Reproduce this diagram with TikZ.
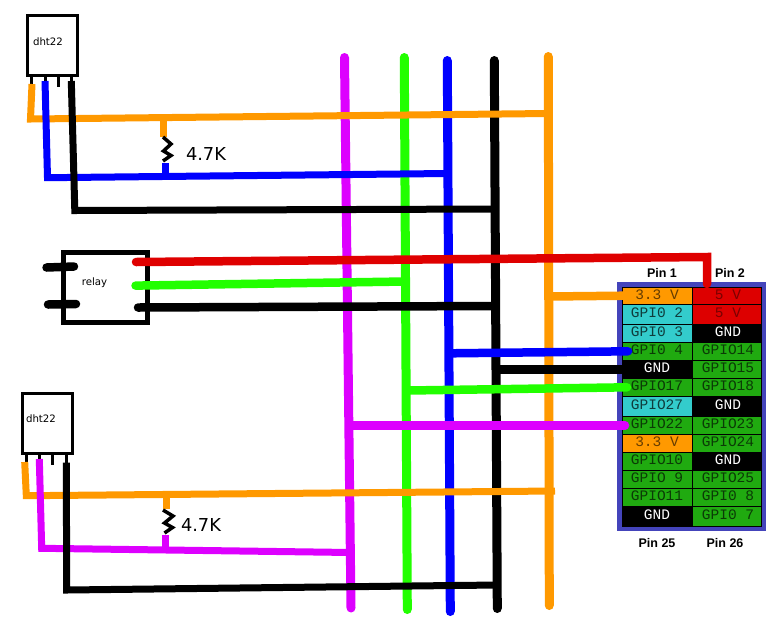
\documentclass[tikz,border=0pt]{standalone}
\usepackage{fontspec}
\setmainfont{DejaVu Sans}
\newfontfamily\cellfont{Liberation Mono}
\newfontfamily\headfont{Liberation Sans}
\usetikzlibrary{positioning}
\definecolor{wireorange}{HTML}{FF9900}
\definecolor{wiremagenta}{HTML}{DD00FF}
\definecolor{wiregreen}{HTML}{22FF00}
\definecolor{wireblue}{HTML}{0000FF}
\definecolor{wirered}{HTML}{DF0000}
\definecolor{cellgreen}{HTML}{20AA10}
\definecolor{cellcyan}{HTML}{33CCCC}
\definecolor{cellorange}{HTML}{FF9900}
\definecolor{cellred}{HTML}{DD0000}
\definecolor{panelblue}{HTML}{4444BB}
\tikzset{
  bus/.style={line width=9pt,line cap=round},
  wire/.style={line width=7pt,miter limit=10},
  relaywire/.style={line width=8.5pt,line cap=round},
  lead/.style={line width=3pt},
  zigzag/.style={line width=3.5pt},
  pcell/.style={draw=black,line width=.7pt,anchor=north west,inner sep=0pt,outer sep=0pt,text height=8pt,text depth=1pt,font=\fontsize{14.5}{15}\cellfont},
  gpio/.style={pcell,fill=cellgreen,text=cellgreen!35!black},
  spi/.style={pcell,fill=cellcyan,text=cellcyan!30!black},
  volt/.style={pcell,fill=cellorange,text=cellorange!40!black},
  five/.style={pcell,fill=cellred,text=cellred!55!black},
  gnd/.style={pcell,fill=black,text=white},
  sensorbox/.style={draw=black,fill=white,line width=3pt,minimum width=50pt,minimum height=60pt,inner sep=0pt,outer sep=0pt},
  small/.style={font=\fontsize{10.2}{12}\selectfont,inner sep=0pt},
  ohm/.style={font=\fontsize{17.8}{20}\selectfont,inner sep=0pt},
  pinlabel/.style={font=\fontsize{12.5}{14}\headfont\bfseries,inner sep=0pt}
}
\begin{document}
\begin{tikzpicture}[x=1pt,y=-1pt]
\useasboundingbox (0,0) rectangle (779,641);

\foreach \name/\x/\y in {magT/344.5/57.5, magB/351/608, greT/404.3/57.5, greB/407.3/609.5, bluT/447.3/60.5, bluB/450.3/611.5, blaT/494.3/60.5, blaB/497.3/608.5, oraT/548.3/56.5, oraB/549.3/605.5}
\coordinate (\name) at (\x,\y);

\foreach \name/\col in {mag/wiremagenta, gre/wiregreen, blu/wireblue, bla/black, ora/wireorange}
\draw[bus,\col] (\name T) -- (\name B);

\node[sensorbox](dhtA) at (52.5,45.5) {};
\node[sensorbox](dhtB) at (47,423.5) {};
\node[small](dhtAtext) at (48,41.5) {dht22};
\node[small](dhtBtext) at (41,418.5) {dht22};
\foreach \s/\dx in {dhtA/4, dhtA/17.5, dhtA/30.5, dhtA/43.5, dhtB/4, dhtB/17.5, dhtB/30.5, dhtB/44.5}
\draw[lead] ([xshift=\dx pt]\s.south west) -- ++(0,11);

\node[draw=black,fill=white,line width=5pt,minimum width=84pt,minimum height=70pt,inner sep=0pt,outer sep=0pt](relay) at (105.5,287.5) {};
\node[small](relaytext) at (94.5,283) {relay};
\coordinate (pinAl) at (46.5,267.5);
\coordinate (pinAr) at (74,266.5);
\coordinate (pinBl) at (48,304.5);
\coordinate (pinBr) at (76,304);
\draw[relaywire,black] (pinAl) -- (pinAr);
\draw[relaywire,black] (pinBl) -- (pinBr);

\node[draw=panelblue,fill=panelblue,line width=5pt,minimum width=144pt,minimum height=244pt,inner sep=0pt,outer sep=0pt](panel) at (691.5,406.5) {};
\foreach \row/\ya/\h/\ltext/\lkind/\rtext/\rkind in {
  1/287/17.3/3.3 V/volt/5 V/five,
  2/304.3/19.7/GPI0 2/spi/5 V/five,
  3/324/18.3/GPI0 3/spi/GND/gnd,
  4/342.3/18/GPI0 4/gpio/GPIO14/gpio,
  5/360.3/18/GND/gnd/GPIO15/gpio,
  6/378.3/18/GPIO17/gpio/GPIO18/gpio,
  7/396.3/20/GPIO27/spi/GND/gnd,
  8/416.3/18/GPIO22/gpio/GPIO23/gpio,
  9/434.3/18/3.3 V/volt/GPIO24/gpio,
  10/452.3/18/GPIO10/gpio/GND/gnd,
  11/470.3/18/GPIO 9/gpio/GPIO25/gpio,
  12/488.3/18/GPIO11/gpio/GPI0 8/gpio,
  13/506.3/19.7/GND/gnd/GPI0 7/gpio}
{
\node[\lkind,minimum width=70pt,minimum height=\h pt](l\row) at (622,\ya) {\ltext};
\node[\rkind,minimum width=69pt,minimum height=\h pt](r\row) at (692,\ya) {\hspace{3pt}\rtext};
}

\node[pinlabel](pinone) at (662,273) {Pin 1};
\node[pinlabel](pintwo) at (730,273) {Pin 2};
\node[pinlabel](pinlow) at (657,543) {Pin 25};
\node[pinlabel](pinhigh) at (725,543) {Pin 26};

\coordinate (orgA) at (32,84);
\coordinate (orgAc) at (30.5,119);
\coordinate (orgAe) at (548,113.5);
\coordinate (bluA) at (45,81);
\coordinate (bluAc) at (47.5,177.7);
\coordinate (bluAe) at (447,173.5);
\coordinate (blaA) at (71.3,81);
\coordinate (blaAc) at (74.8,210.5);
\coordinate (blaAe) at (494,209);
\coordinate (orgB) at (24.7,462);
\coordinate (orgBc) at (26.3,495.7);
\coordinate (orgBe) at (555,491);
\coordinate (magA) at (39.3,459);
\coordinate (magAc) at (41.7,548.3);
\coordinate (magAe) at (351,552.5);
\coordinate (blaB) at (66.3,462.7);
\coordinate (blaBc) at (66.7,590);
\coordinate (blaBe) at (497,585);

\coordinate (resAt) at (163,117.5);
\coordinate (resAb) at (165,176);
\coordinate (resBt) at (166,493);
\coordinate (resBb) at (165.5,549);

\draw[wire,wireorange] (orgA) -- (orgAc) -- (orgAe);
\draw[wire,wireorange] (orgB) -- (orgBc) -- (orgBe);
\draw[wire,wireblue] (bluA) -- (bluAc) -- (bluAe);
\draw[wire,wiremagenta] (magA) -- (magAc) -- (magAe);
\draw[wire,black] (blaA) -- (blaAc) -- (blaAe);
\draw[wire,black] (blaB) -- (blaBc) -- (blaBe);

\draw[wire,wireorange] (resAt) -- (163,137);
\draw[wire,wireblue] (165,163) -- (resAb);
\draw[zigzag] (163,137) -- (171,144) -- (163.5,151) -- (171,155.5) -- (163,161);
\node[ohm](resAtext) at (206,154) {4.7K};

\draw[wire,wireorange] (resBt) -- (166,509);
\draw[wire,wiremagenta] (165.5,535) -- (resBb);
\draw[zigzag] (163,510) -- (173,516) -- (164.5,523) -- (172.5,527.5) -- (164.5,533);
\node[ohm](resBtext) at (201,525) {4.7K};

\coordinate (relayR) at (136,262);
\coordinate (relayG) at (135.5,285.6);
\coordinate (relayK) at (138,307.5);
\coordinate (topR) at (707,257);
\coordinate (busG) at (405,281.5);
\coordinate (busK) at (494,306);
\coordinate (busO) at (549,296.5);
\coordinate (busB) at (451,353.3);
\coordinate (busL) at (497,369.3);
\coordinate (busE) at (408,390.5);
\coordinate (busM) at (351,425.3);

\draw[relaywire,wiregreen] (relayG) -- (busG);
\draw[relaywire,black] (relayK) -- (busK);
\draw[relaywire,wireorange,line cap=butt] (busO) -- ([xshift=6pt]l1.west);
\draw[relaywire,wireblue] (busB) -- ([xshift=6pt]l4.west);
\draw[relaywire,black] (busL) -- ([xshift=6pt]l5.west);
\draw[relaywire,wiregreen] (busE) -- ([xshift=5pt]l6.west);
\draw[relaywire,wiremagenta] (busM) -- ([xshift=3pt]l8.west);
\draw[relaywire,wirered,line cap=round,miter limit=10] (relayR) -- (topR) -- ([yshift=3pt]r1.north -| topR);
\end{tikzpicture}
\end{document}
